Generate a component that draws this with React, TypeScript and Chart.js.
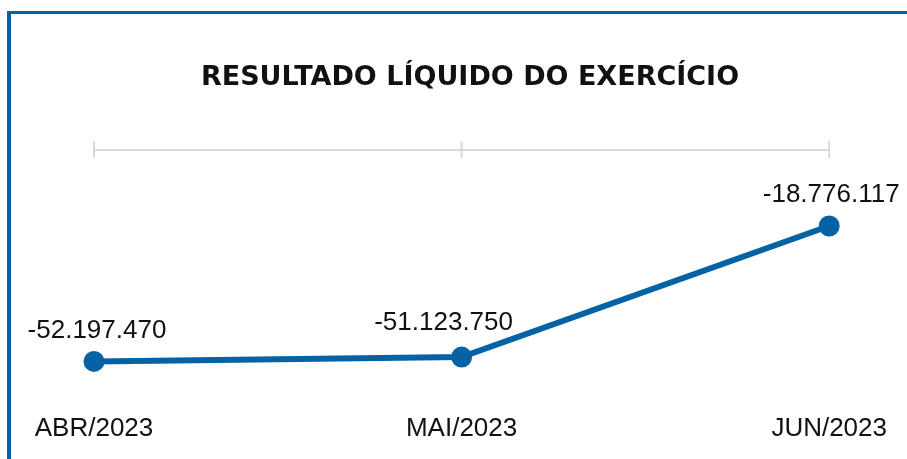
import React, { useEffect, useRef } from "react";
import { Chart, registerables } from "chart.js";

Chart.register(...registerables);

const categories = ["ABR/2023", "MAI/2023", "JUN/2023"];
const resultado = [-52197470, -51123750, -18776117];
const yMin = -60000000;
const yMax = 0;
const chartTitle = "RESULTADO LÍQUIDO DO EXERCÍCIO";

const BLUE = "#0563a5";
const GRAY = "#d9d9d9";
const labelDx = [3, -18, 2];
const labelDy = [-31, -34, -31];

function fmt(v: number): string {
  const s = Math.abs(Math.round(v))
    .toString()
    .replace(/\B(?=(\d{3})+(?!\d))/g, ".");
  return (v < 0 ? "-" : "") + s;
}

const decor = {
  id: "decor",
  beforeDraw(chart: any) {
    const ctx = chart.ctx;
    ctx.save();
    ctx.fillStyle = "#ffffff";
    ctx.fillRect(0, 0, chart.width, chart.height);
    // frame
    ctx.fillStyle = BLUE;
    ctx.fillRect(7, 11, 4, chart.height - 11);
    ctx.fillRect(7, 11, chart.width - 7, 3);
    // title
    ctx.fillStyle = "#111111";
    ctx.font = "bold 27px 'DejaVu Sans'";
    ctx.textAlign = "center";
    ctx.textBaseline = "middle";
    ctx.fillText(chartTitle, 470, 78);
    // zero line with ticks
    const xs = chart.scales.x;
    const ys = chart.scales.y;
    const y0 = ys.getPixelForValue(0);
    ctx.strokeStyle = GRAY;
    ctx.lineWidth = 2;
    ctx.beginPath();
    ctx.moveTo(xs.left, y0);
    ctx.lineTo(xs.right, y0);
    ctx.stroke();
    categories.forEach((_, i) => {
      const px = xs.getPixelForValue(i);
      ctx.beginPath();
      ctx.moveTo(px, y0 - 9);
      ctx.lineTo(px, y0 + 8);
      ctx.stroke();
    });
    ctx.restore();
  },
  afterDatasetsDraw(chart: any) {
    const ctx = chart.ctx;
    const meta = chart.getDatasetMeta(0);
    ctx.save();
    ctx.fillStyle = "#111111";
    ctx.font = "26px 'Liberation Sans'";
    ctx.textAlign = "center";
    ctx.textBaseline = "middle";
    meta.data.forEach((pt: any, i: number) => {
      ctx.fillText(fmt(resultado[i]), pt.x + labelDx[i], pt.y + labelDy[i]);
    });
    ctx.restore();
  },
};

export default function App() {
  const ref = useRef<HTMLCanvasElement | null>(null);
  useEffect(() => {
    document.body.style.margin = "0";
    if (!ref.current) return;
    const chart = new Chart(ref.current, {
      type: "line",
      data: {
        labels: categories,
        datasets: [
          {
            data: resultado,
            borderColor: BLUE,
            backgroundColor: BLUE,
            borderWidth: 6,
            tension: 0,
            pointRadius: 10.5,
            pointBackgroundColor: BLUE,
            pointBorderWidth: 0,
            clip: false as any,
          },
        ],
      },
      options: {
        responsive: false,
        animation: false,
        layout: { padding: { top: 150, left: 94, right: 74, bottom: 16 } },
        plugins: {
          legend: { display: false },
          tooltip: { enabled: false },
          title: { display: false },
        },
        scales: {
          x: {
            position: "bottom",
            grid: { display: false, drawTicks: false },
            border: { display: false },
            offset: false,
            afterFit: (scale: any) => {
              scale.height = 50;
            },
            ticks: {
              padding: 20,
              color: "#111111",
              font: { family: "'Liberation Sans'", size: 26 },
              maxRotation: 0,
              autoSkip: false,
            },
          },
          y: {
            display: false,
            min: yMin,
            max: yMax,
          },
        },
      },
      plugins: [decor],
    });
    return () => chart.destroy();
  }, []);
  return (
    <div style={{ width: 907, height: 459 }}>
      <canvas ref={ref} width={907} height={459} />
    </div>
  );
}
